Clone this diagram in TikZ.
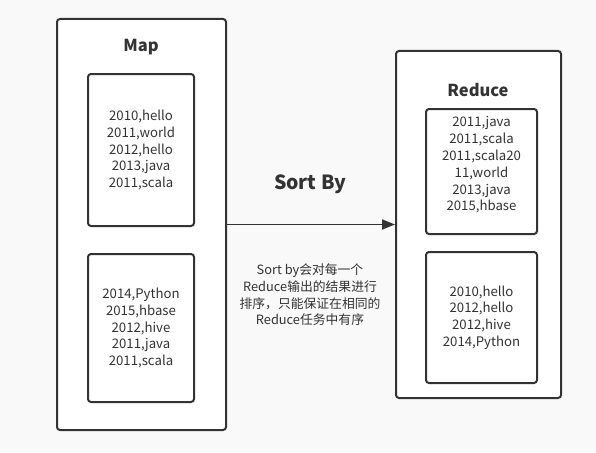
\documentclass[tikz,border=0pt]{standalone}
\usepackage{fontspec}
\setmainfont{Noto Sans CJK SC}
\usepackage{xcolor}
\usetikzlibrary{arrows.meta,positioning}

\definecolor{ink}{HTML}{333333}
\definecolor{paper}{HTML}{F9F9F9}

\begin{document}
\begin{tikzpicture}[
  x=1pt, y=-1pt,
  every node/.style={align=center, text=ink},
  outer/.style={draw=ink, fill=white, rounded corners=3pt, line width=2pt, inner sep=0pt},
  inner/.style={draw=ink, fill=white, rounded corners=3pt, line width=2pt, inner sep=0pt,
                font=\fontsize{13.2}{16.8}\selectfont},
  title/.style={font=\fontsize{16.5}{18}\selectfont\bfseries},
  arr/.style={-{Triangle[length=13pt, width=10pt]}, draw=ink, fill=ink, line width=1.8pt},
]

%% --- background ---
\fill[paper] (0,0) rectangle (596,452);
\useasboundingbox (0,0) rectangle (596,452);

%% --- Map side ---
\node[outer, minimum width=169pt, minimum height=411pt] (map) at (141.5,224.5) {};
\node[title] (maptitle) at (141,47) {Map};
\node[inner, minimum width=106pt, minimum height=152pt] (split1) at (141,150)
  {2010,hello\\2011,world\\2012,hello\\2013,java\\2011,scala};
\node[inner, minimum width=106pt, minimum height=148pt] (split2) at (141,328)
  {2014,Python\\2015,hbase\\2012,hive\\2011,java\\2011,scala};

%% --- Reduce side ---
\node[outer, minimum width=165pt, minimum height=347pt] (reduce) at (478.5,224.5) {};
\node[title] (redtitle) at (478,90) {Reduce};
\node[inner, minimum width=111pt, minimum height=125pt] (part1) at (481.5,171.5) {};
\node[font=\fontsize{13.2}{16.8}\selectfont] (part1txt) at (481.5,165)
  {2011,java\\2011,scala\\2011,scala20\\11,world\\2013,java\\2015,hbase};
\node[inner, minimum width=111pt, minimum height=131pt] (part2) at (481.5,317.5)
  {2010,hello\\2012,hello\\2012,hive\\2014,Python};

%% --- Sort By arrow ---
\draw[arr] (map) -- (reduce);
\node[font=\fontsize{19.5}{21}\selectfont\bfseries] (sortby) at (310,184) {Sort By};
\node[font=\fontsize{12.8}{16.6}\selectfont] (note) at (310,295)
  {Sort by会对每一个\\Reduce输出的结果进行\\排序，只能保证在相同的\\Reduce任务中有序};

\end{tikzpicture}
\end{document}
